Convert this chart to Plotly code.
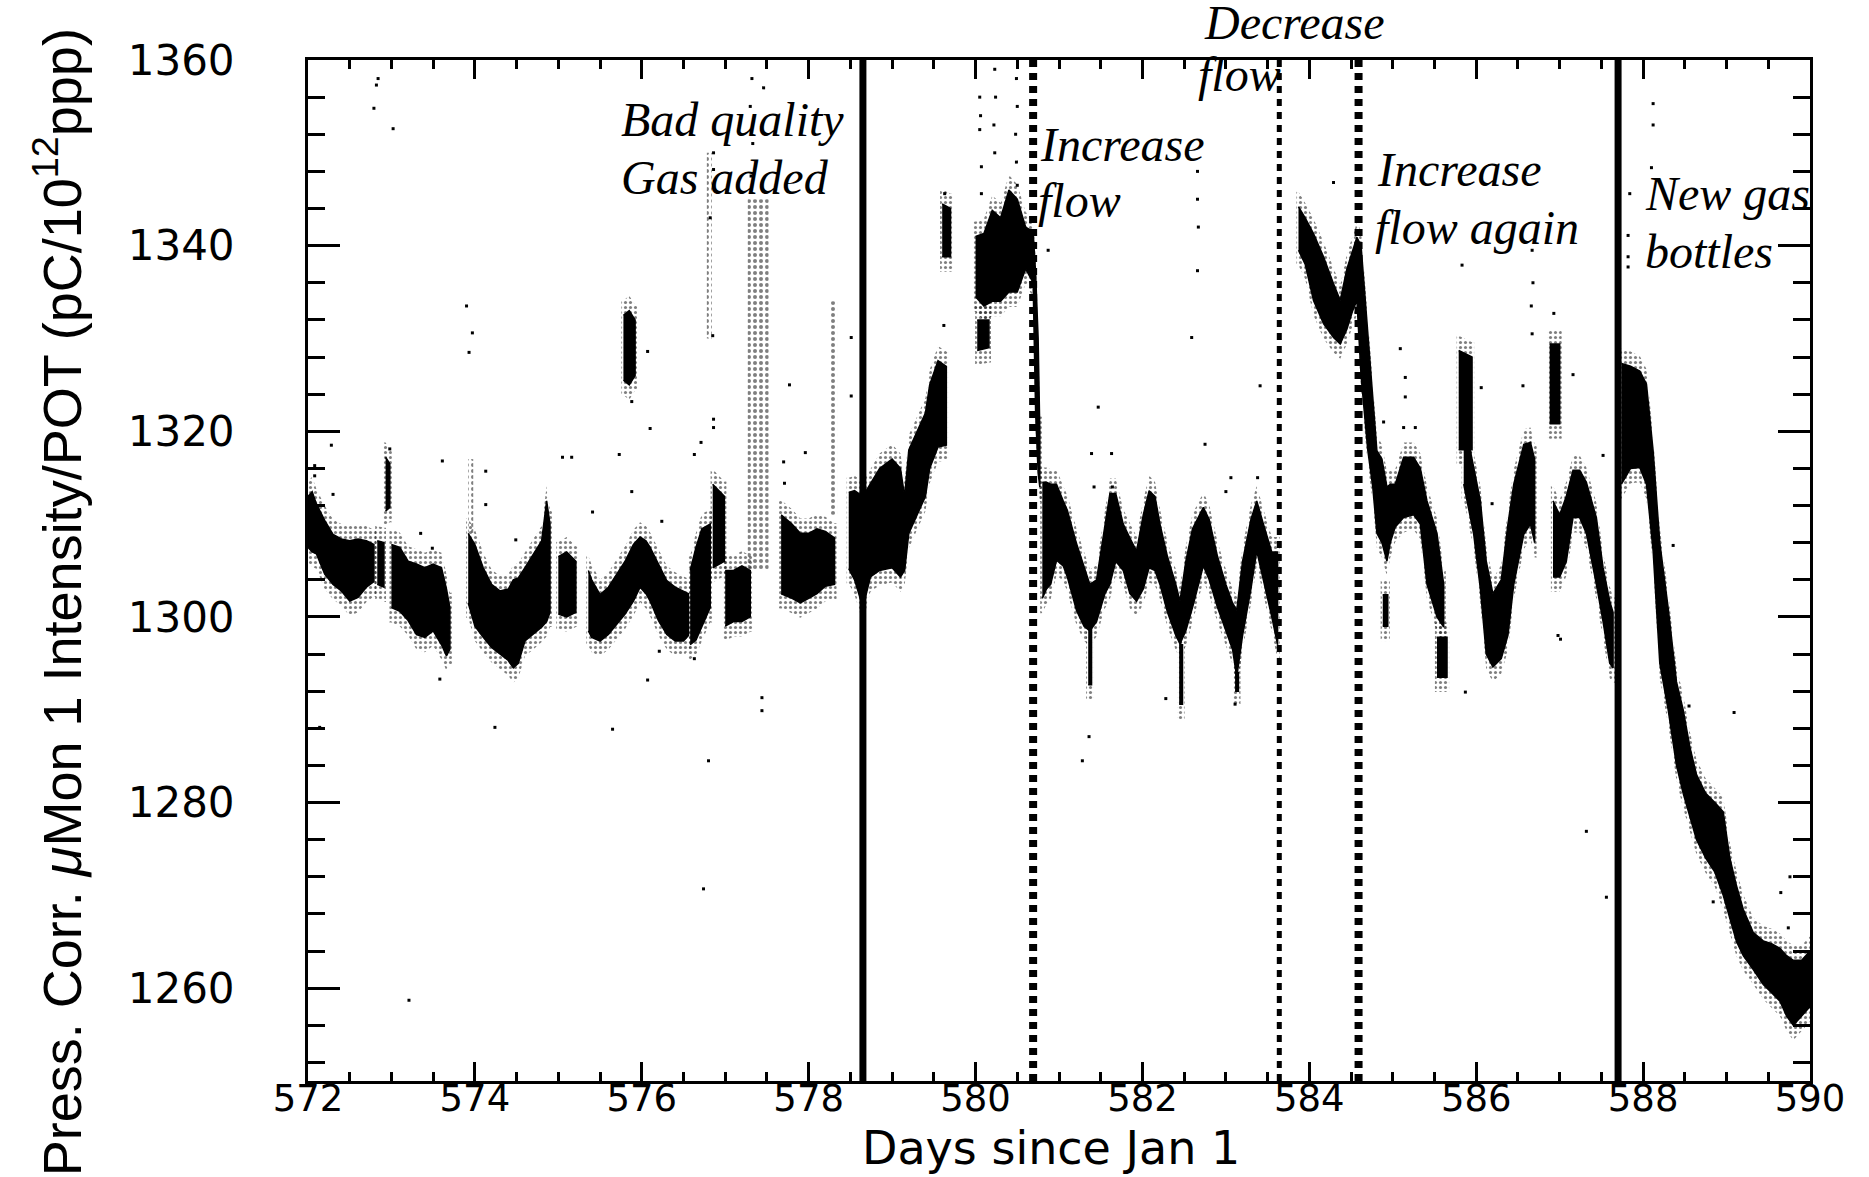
import plotly.graph_objects as go

# ---------------- data ----------------
# dense bands of points: x (days), lower and upper edge of the band; None separates runs
band_x = [
    572.00, 572.05, 572.10, 572.20, 572.30, 572.40, 572.50, 572.60, 572.70, 572.79, None,
    572.83, 572.91, None,
    572.93, 572.98, None,
    573.00, 573.10, 573.20, 573.30, 573.40, 573.50, 573.60, 573.66, 573.70, None,
    573.92, 574.00, 574.10, 574.20, 574.30, 574.40, 574.46, 574.52, 574.60, 574.70, 574.80, 574.86, 574.90, None,
    575.00, 575.10, 575.21, None,
    575.36, 575.40, 575.50, 575.60, 575.70, 575.80, 575.90, 575.98, 576.05, 576.10, 576.20, 576.30, 576.40, 576.50, 576.56, None,
    575.78, 575.85, 575.92, None,
    576.58, 576.65, 576.72, 576.82, None,
    576.85, 576.99, None,
    577.00, 577.10, 577.20, 577.30, None,
    577.67, 577.80, 577.90, 578.00, 578.10, 578.20, 578.31, None,
    578.48, 578.55, 578.65, 578.74, 578.85, 579.00, 579.10, 579.15, 579.20, 579.30, 579.40, 579.45, 579.55, 579.65, None,
    579.60, 579.70, None,
    580.00, 580.10, 580.20, 580.30, 580.40, 580.50, 580.60, 580.69, 580.72, 580.75, 580.77, None,
    580.02, 580.16, None,
    580.80, 580.85, 580.90, 580.97, 581.05, 581.10, 581.21, 581.30, 581.37, 581.45, 581.55, 581.61, 581.68,
    581.77, 581.85, 581.93, 582.01, 582.08, 582.15, 582.21, 582.30, 582.40, 582.45, 582.52, 582.60, 582.73,
    582.80, 582.90, 583.00, 583.08, 583.13, 583.20, 583.30, 583.37, 583.45, 583.55, 583.62, None,
    581.35, 581.39, None,
    582.44, 582.48, None,
    583.11, 583.15, None,
    583.87, 583.95, 584.05, 584.17, 584.29, 584.37, 584.45, 584.52, 584.57, 584.62, 584.70, 584.76,
    584.81, 584.87, 584.93, 584.97, 585.03, 585.13, 585.25, 585.33, 585.41, 585.53, 585.61, None,
    585.53, 585.65, None,
    584.88, 584.94, None,
    585.79, 585.95, None,
    585.85, 585.97, 586.05, 586.12, 586.20, 586.30, 586.38, 586.45, 586.57, 586.65, 586.70, None,
    586.88, 587.00, None,
    586.92, 587.00, 587.08, 587.16, 587.24, 587.32, 587.44, 587.52, 587.60, 587.64, None,
    587.74, 587.85, 587.96, 588.04, 588.12, 588.20, 588.30, 588.40, 588.48, 588.56, 588.64, 588.75,
    588.86, 588.96, 589.04, 589.12, 589.20, 589.32, 589.44, 589.54, 589.64, 589.72, 589.80, 589.90, 590.00,
]
band_lo = [
    1307.5, 1307.0, 1306.8, 1304.6, 1303.5, 1302.8, 1301.7, 1302.1, 1303.2, 1303.8, None,
    1303.5, 1303.2, None,
    1311.4, 1311.8, None,
    1301.0, 1300.6, 1299.6, 1298.1, 1297.8, 1298.5, 1297.0, 1295.8, 1296.5, None,
    1301.5, 1299.0, 1297.8, 1296.7, 1296.0, 1295.3, 1294.5, 1295.0, 1297.4, 1298.1, 1298.9, 1299.5, 1300.5, None,
    1300.3, 1300.0, 1300.5, None,
    1298.5, 1297.8, 1297.4, 1298.1, 1299.2, 1300.3, 1301.7, 1303.2, 1302.5, 1301.7, 1299.6, 1298.1, 1297.4, 1297.4, 1298.0, None,
    1325.5, 1325.0, 1326.0, None,
    1297.0, 1297.5, 1299.0, 1301.0, None,
    1305.3, 1306.0, None,
    1299.0, 1299.5, 1299.5, 1300.0, None,
    1302.5, 1302.0, 1301.5, 1302.0, 1302.5, 1303.3, 1303.5, None,
    1305.2, 1304.0, 1301.0, 1304.3, 1305.0, 1305.3, 1304.3, 1305.0, 1309.0, 1311.0, 1313.0, 1316.0, 1318.3, 1318.5, None,
    1338.8, 1338.8, None,
    1334.5, 1333.5, 1334.0, 1334.0, 1335.0, 1335.0, 1337.5, 1336.0, 1322.0, 1315.5, 1314.0, None,
    1328.7, 1329.0, None,
    1302.0, 1303.0, 1303.5, 1306.1, 1305.5, 1304.3, 1300.7, 1299.0, 1298.5, 1299.5, 1302.5, 1303.5, 1306.0,
    1305.0, 1302.5, 1301.7, 1303.0, 1305.3, 1305.0, 1303.5, 1300.5, 1298.0, 1297.1, 1298.5, 1301.0, 1305.5,
    1304.0, 1301.0, 1298.5, 1296.5, 1293.5, 1298.0, 1303.0, 1307.1, 1304.0, 1300.0, 1297.0, None,
    1292.7, 1292.7, None,
    1290.6, 1290.6, None,
    1292.0, 1292.0, None,
    1339.5, 1338.0, 1334.1, 1331.6, 1330.1, 1329.4, 1331.0, 1333.0, 1334.1, 1326.0, 1318.0, 1314.0,
    1309.0, 1308.0, 1306.0, 1308.0, 1309.7, 1310.7, 1311.0, 1310.0, 1303.5, 1300.0, 1298.9, None,
    1293.5, 1293.5, None,
    1299.0, 1299.0, None,
    1318.0, 1318.0, None,
    1314.3, 1308.9, 1303.0, 1296.0, 1294.6, 1295.5, 1298.0, 1303.5, 1308.9, 1310.0, 1308.0, None,
    1320.8, 1320.8, None,
    1304.3, 1304.3, 1306.0, 1310.7, 1310.7, 1309.0, 1303.5, 1299.5, 1295.0, 1294.5, None,
    1314.3, 1316.0, 1316.1, 1314.3, 1307.1, 1295.0, 1290.0, 1284.0, 1281.0, 1278.5, 1276.0, 1274.0,
    1272.5, 1270.0, 1267.5, 1265.0, 1263.5, 1262.0, 1260.4, 1259.5, 1258.6, 1257.0, 1256.0, 1257.0, 1258.0,
]
band_hi = [
    1313.0, 1313.5, 1312.2, 1310.4, 1308.9, 1308.4, 1308.2, 1308.4, 1308.2, 1307.8, None,
    1308.2, 1308.0, None,
    1317.2, 1316.5, None,
    1307.8, 1307.5, 1306.0, 1305.7, 1305.3, 1305.7, 1305.3, 1303.0, 1301.0, None,
    1309.0, 1307.8, 1305.3, 1303.5, 1302.8, 1303.0, 1304.0, 1304.2, 1305.3, 1306.8, 1308.2, 1312.5, 1310.0, None,
    1306.5, 1307.0, 1306.0, None,
    1305.0, 1304.0, 1302.4, 1303.2, 1304.6, 1306.0, 1307.8, 1308.6, 1308.2, 1307.5, 1305.7, 1303.9, 1303.2, 1302.8, 1302.5, None,
    1332.5, 1333.0, 1332.0, None,
    1305.0, 1307.5, 1309.5, 1310.0, None,
    1314.3, 1313.0, None,
    1305.0, 1305.0, 1305.5, 1305.0, None,
    1311.0, 1310.0, 1309.0, 1309.0, 1309.5, 1309.2, 1308.5, None,
    1313.4, 1313.6, 1313.0, 1314.3, 1316.0, 1317.0, 1316.0, 1313.0, 1318.0, 1320.0, 1322.0, 1325.0, 1327.6, 1327.0, None,
    1344.5, 1344.0, None,
    1341.0, 1341.3, 1343.8, 1343.0, 1346.0, 1345.0, 1342.0, 1341.5, 1337.0, 1330.0, 1320.0, None,
    1332.0, 1332.0, None,
    1314.5, 1314.5, 1314.3, 1314.3, 1312.5, 1311.5, 1307.9, 1305.5, 1303.5, 1304.0, 1310.0, 1313.3, 1313.3,
    1310.0, 1308.5, 1307.1, 1311.0, 1313.6, 1313.0, 1310.0, 1306.5, 1303.5, 1301.7, 1306.0, 1309.5, 1311.8,
    1310.5, 1306.5, 1303.5, 1301.5, 1300.7, 1306.0, 1310.5, 1312.5, 1310.0, 1307.0, 1307.0, None,
    1299.0, 1299.0, None,
    1297.0, 1297.0, None,
    1294.0, 1294.0, None,
    1344.2, 1343.0, 1341.3, 1338.8, 1335.9, 1334.1, 1337.5, 1339.5, 1340.9, 1340.0, 1331.0, 1324.0,
    1317.9, 1317.0, 1314.0, 1314.3, 1314.3, 1317.2, 1317.2, 1316.0, 1312.5, 1309.0, 1303.5, None,
    1297.8, 1297.8, None,
    1302.4, 1302.4, None,
    1328.7, 1328.0, None,
    1321.5, 1316.0, 1312.5, 1306.0, 1302.5, 1304.0, 1310.0, 1314.3, 1318.6, 1318.8, 1317.0, None,
    1329.4, 1329.4, None,
    1312.5, 1311.0, 1313.0, 1315.8, 1315.8, 1314.5, 1310.7, 1305.3, 1301.7, 1300.5, None,
    1327.3, 1327.0, 1326.5, 1325.1, 1317.9, 1308.0, 1301.0, 1293.0, 1290.0, 1286.0, 1283.0, 1281.0,
    1280.0, 1279.0, 1274.0, 1271.0, 1268.5, 1266.0, 1265.1, 1264.8, 1264.3, 1263.5, 1263.0, 1263.0, 1264.0,
]

# thinly populated columns of points: x start, x end, low, high
sparse_x0 = [573.92, 577.27, 578.26, 576.78]
sparse_x1 = [573.98, 577.52, 578.34, 576.84]
sparse_lo = [1309.0, 1305.0, 1311.0, 1330.0]
sparse_hi = [1317.0, 1345.0, 1334.0, 1350.0]

# isolated points
out_x = [
    572.08, 572.08, 572.28, 572.30, 572.98, 573.35, 573.49, 573.61, 573.90, 573.97, 573.93, 574.13, 574.13,
    574.49, 575.05, 575.16, 575.41, 575.73, 575.88, 575.88, 576.10, 576.07, 576.24, 576.85, 576.86, 576.86,
    576.71, 576.63, 577.77, 577.70, 577.71, 572.14, 574.24, 575.65, 576.80, 577.44, 577.44, 576.07, 573.58,
    576.21, 576.63, 573.21, 576.74,
    572.82, 572.84, 572.79, 573.02, 576.86, 576.86, 576.86, 576.82, 577.32, 577.46, 577.30, 577.33, 577.31,
    580.05, 580.06, 580.05, 580.23, 580.24, 580.22, 580.23, 580.07, 580.07, 580.49, 580.50, 580.48, 580.49,
    580.50, 579.63, 579.62, 578.51, 578.51, 577.96, 582.66, 582.66, 582.67, 582.66, 582.59, 581.47, 580.87,
    583.41, 582.75, 581.39, 581.63, 581.42, 581.64, 583.06, 583.38, 583.00,
    581.36, 581.28, 582.28, 583.11,
    584.29, 588.10, 587.84, 587.82, 587.82, 587.82, 586.67, 586.68, 586.66, 586.67, 586.93, 585.83, 585.09,
    585.15, 585.15, 586.06, 586.56, 587.16, 587.52, 584.89, 585.13, 585.27, 586.19, 588.36, 586.98,
    587.01, 585.87, 587.32, 587.56, 588.55, 589.09, 588.84, 589.65, 589.76, 589.74, 588.12, 588.12,
]
out_y = [
    1316.3, 1315.2, 1318.5, 1313.2, 1318.1, 1309.0, 1307.4, 1316.8, 1333.5, 1330.6, 1328.5, 1315.7, 1312.1,
    1308.3, 1317.2, 1317.2, 1311.3, 1317.5, 1323.2, 1313.5, 1320.3, 1328.6, 1310.3, 1330.3, 1321.3, 1320.4,
    1318.8, 1317.5, 1325.0, 1316.7, 1314.4, 1288.1, 1288.1, 1287.9, 1284.5, 1291.3, 1289.9, 1293.2, 1293.3,
    1296.3, 1295.5, 1258.7, 1270.7,
    1357.3, 1358.0, 1354.8, 1352.6, 1350.0, 1348.2, 1346.5, 1343.0, 1358.0, 1357.0, 1355.0, 1351.0, 1347.5,
    1356.0, 1354.0, 1352.5, 1359.0, 1356.0, 1353.0, 1350.0, 1348.5, 1345.6, 1358.0, 1355.0, 1352.0, 1349.0,
    1346.5, 1345.6, 1331.4, 1330.1, 1323.8, 1317.7, 1348.0, 1345.0, 1342.0, 1337.3, 1330.1, 1322.6, 1339.5,
    1324.9, 1318.6, 1317.6, 1317.6, 1314.0, 1314.0, 1315.0, 1315.0, 1313.5,
    1287.1, 1284.5, 1291.2, 1290.6,
    1346.8, 1348.4, 1345.6, 1341.1, 1338.8, 1337.7, 1339.5, 1336.0, 1333.5, 1330.5, 1332.7, 1337.9, 1328.9,
    1325.8, 1323.7, 1324.7, 1324.9, 1326.1, 1317.4, 1321.0, 1320.4, 1320.4, 1312.2, 1307.7, 1298.0,
    1297.6, 1291.9, 1276.9, 1269.8, 1290.4, 1289.7, 1269.3, 1270.3, 1272.0, 1266.5, 1355.3, 1353.0,
]

# event markers: day, line style
event_x = [578.65, 580.69, 583.64, 584.59, 587.70]
event_style = ["solid", "dot", "dot_thin", "dot", "solid"]

# annotation text lines: day of left edge, value at line middle (None = above the frame), text
note_x = [575.73, 575.73, 580.75, 580.73, 582.71, 582.64, 584.79, 584.76, 588.00, 588.00]
note_y = [1353.6, 1347.3, 1350.9, 1344.9, None, 1358.45, 1348.2, 1342.0, 1345.6, 1339.4]
note_text = ["Bad quality", "Gas added", "Increase", "flow", "Decrease", "flow",
             "Increase", "flow again", "New gas", "bottles"]

x_ticks = [572, 574, 576, 578, 580, 582, 584, 586, 588, 590]
y_ticks = [1260, 1280, 1300, 1320, 1340, 1360]

# ---------------- figure ----------------
fig = go.Figure()

seg = []
segments = []
for x, lo, hi in zip(band_x, band_lo, band_hi):
    if x is None:
        if seg:
            segments.append(seg)
        seg = []
    else:
        seg.append((x, lo, hi))
if seg:
    segments.append(seg)

# speckled fringe around each band
for s in segments:
    xs = [p[0] for p in s]
    los = [p[1] - 1.6 for p in s]
    his = [p[2] + 1.6 for p in s]
    xx = [xs[0] - 0.025] + xs + [xs[-1] + 0.025]
    ll = [los[0]] + los + [los[-1]]
    hh = [his[0]] + his + [his[-1]]
    fig.add_trace(go.Scatter(
        x=xx + xx[::-1], y=hh + ll[::-1], mode="lines",
        fill="toself", fillcolor="rgba(0,0,0,0)",
        fillpattern=dict(shape=".", fgcolor="black", bgcolor="rgba(0,0,0,0)",
                         size=5, solidity=0.3),
        line=dict(color="rgba(0,0,0,0)", width=0), hoverinfo="skip"))

# dense bands
for s in segments:
    xs = [p[0] for p in s]
    los = [p[1] for p in s]
    his = [p[2] for p in s]
    fig.add_trace(go.Scatter(
        x=xs + xs[::-1], y=his + los[::-1], mode="lines",
        fill="toself", fillcolor="black",
        line=dict(color="black", width=1.5), hoverinfo="skip"))

# sparse columns
for x0, x1, lo, hi in zip(sparse_x0, sparse_x1, sparse_lo, sparse_hi):
    fig.add_trace(go.Scatter(
        x=[x0, x1, x1, x0, x0], y=[lo, lo, hi, hi, lo], mode="lines",
        fill="toself", fillcolor="rgba(0,0,0,0)",
        fillpattern=dict(shape=".", fgcolor="black", bgcolor="rgba(0,0,0,0)",
                         size=6, solidity=0.35),
        line=dict(color="rgba(0,0,0,0)", width=0), hoverinfo="skip"))

# isolated points
fig.add_trace(go.Scatter(
    x=out_x, y=out_y, mode="markers",
    marker=dict(symbol="square", size=3, color="black"), hoverinfo="skip"))

# event lines
styles = {
    "solid": dict(width=7, dash="solid"),
    "dot": dict(width=8, dash="7px,6px"),
    "dot_thin": dict(width=5, dash="7px,6px"),
}
for ex, st in zip(event_x, event_style):
    fig.add_shape(type="line", xref="x", yref="paper", x0=ex, x1=ex, y0=0, y1=1,
                  line=dict(color="black", **styles[st]))

# annotations
notefont = dict(family="Liberation Serif, Times New Roman, serif", size=48, color="black", style="italic")
for nx, ny, nt in zip(note_x, note_y, note_text):
    if ny is None:
        fig.add_annotation(x=nx, xref="x", y=1.0372, yref="paper", text=nt, showarrow=False,
                           xanchor="left", yanchor="middle", font=notefont)
    else:
        fig.add_annotation(x=nx, xref="x", y=ny, yref="y", text=nt, showarrow=False,
                           xanchor="left", yanchor="middle", font=notefont)

# axis titles
fig.add_annotation(
    text="Press. Corr. <i>μ</i>Mon 1 Intensity/POT (pC/10<sup>12</sup>ppp)",
    xref="paper", yref="paper", x=-0.1664, y=0.469, textangle=-90, showarrow=False,
    xanchor="center", yanchor="middle",
    font=dict(family="Liberation Sans", size=54, color="black"))
fig.add_annotation(
    text="Days since Jan 1", xref="paper", yref="paper", x=0.4947, y=-0.0656,
    showarrow=False, xanchor="center", yanchor="middle",
    font=dict(family="DejaVu Sans", size=46, color="black"))

axis_common = dict(
    showline=True, linewidth=3, linecolor="black", mirror="ticks",
    ticks="inside", tickcolor="black", tickwidth=3,
    showgrid=False, zeroline=False,
)
fig.update_xaxes(
    range=[572, 590], tickvals=x_ticks, ticktext=[str(v) for v in x_ticks],
    ticklen=19, ticklabelstandoff=-17,
    minor=dict(dtick=0.5, tick0=572, ticks="inside", ticklen=9, tickwidth=3, tickcolor="black", showgrid=False),
    tickfont=dict(family="DejaVu Sans", size=37, color="black"),
    **axis_common)
fig.update_yaxes(
    range=[1250, 1360], tickvals=y_ticks, ticktext=[str(v) for v in y_ticks],
    ticklen=32, ticklabelstandoff=62,
    minor=dict(dtick=4, tick0=1260, ticks="inside", ticklen=17, tickwidth=3, tickcolor="black", showgrid=False),
    tickfont=dict(family="DejaVu Sans", size=42, color="black"),
    **axis_common)

fig.update_layout(
    width=1869, height=1177,
    margin=dict(l=308, r=59, t=60, b=96),
    plot_bgcolor="white", paper_bgcolor="white",
    showlegend=False,
)

fig.write_html("out.html")
